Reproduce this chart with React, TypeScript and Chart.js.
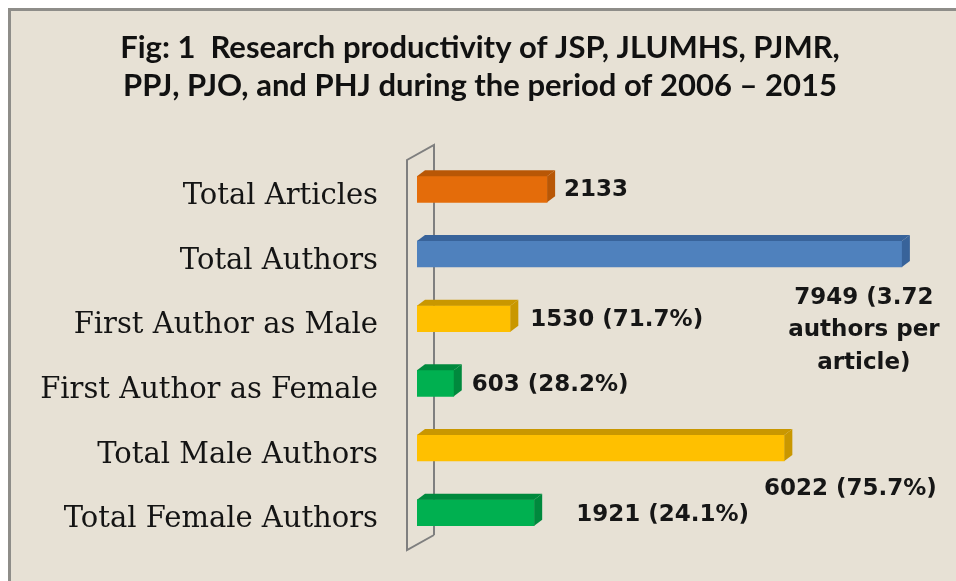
import React, { useEffect, useRef } from "react";
import { Chart, registerables } from "chart.js";

Chart.register(...registerables);

// ---- data ----
const categories = [
  "Total Articles",
  "Total Authors",
  "First Author as Male",
  "First Author as Female",
  "Total Male Authors",
  "Total Female Authors",
];
const values = [2133, 7949, 1530, 603, 6022, 1921];
const valueLabels: string[][] = [
  ["2133"],
  ["7949 (3.72", "authors per", "article)"],
  ["1530 (71.7%)"],
  ["603 (28.2%)"],
  ["6022 (75.7%)"],
  ["1921 (24.1%)"],
];
const titleLines = [
  "Fig: 1  Research productivity of JSP, JLUMHS, PJMR,",
  "PPJ, PJO, and PHJ during the period of 2006 – 2015",
];
const xMin = 0;
const xMax = 8000;

// ---- styles ----
const frontColors = ["#E46C0A", "#4F81BD", "#FFC000", "#00B050", "#FFC000", "#00B050"];
const shadeColors = ["#B85706", "#38639A", "#C99700", "#00893D", "#C99700", "#00893D"];
const labelPlacement: { dx: number; dy: number; align: CanvasTextAlign }[] = [
  { dx: 17, dy: 1, align: "left" },
  { dx: -38, dy: 44, align: "center" },
  { dx: 20, dy: 1, align: "left" },
  { dx: 18, dy: 1.5, align: "left" },
  { dx: 66, dy: 41, align: "center" },
  { dx: 42, dy: 2.5, align: "left" },
];
const DEPTH_X = 8;
const DEPTH_Y = 6;
const W = 956;
const H = 581;

const backgroundPlugin = {
  id: "paperBackground",
  beforeDraw(chart: any) {
    const ctx = chart.ctx;
    ctx.save();
    ctx.fillStyle = "#ffffff";
    ctx.fillRect(0, 0, W, H);
    ctx.fillStyle = "#E7E1D5";
    ctx.fillRect(8, 8, W - 8, H - 8);
    ctx.fillStyle = "#8E8D89";
    ctx.fillRect(8, 8, W - 8, 3);
    ctx.fillRect(8, 8, 3, H - 8);
    ctx.restore();
  },
};

const titlePlugin = {
  id: "figTitle",
  afterDraw(chart: any) {
    const ctx = chart.ctx;
    ctx.save();
    ctx.fillStyle = "#111111";
    ctx.font = "bold 31px Lato";
    ctx.textAlign = "center";
    ctx.textBaseline = "middle";
    titleLines.forEach((line, k) => {
      ctx.fillText(line, 480, 48 + k * 38);
    });
    ctx.restore();
  },
};

const wallPlugin = {
  id: "wall3d",
  beforeDatasetsDraw(chart: any) {
    const { ctx, chartArea } = chart;
    const l = chartArea.left;
    ctx.save();
    ctx.strokeStyle = "#7F7F7F";
    ctx.lineWidth = 2;
    ctx.beginPath();
    ctx.moveTo(l + 17, chartArea.bottom - 10);
    ctx.lineTo(l + 17, chartArea.top - 12);
    ctx.lineTo(l - 10, chartArea.top + 3);
    ctx.lineTo(l - 10, chartArea.bottom + 5);
    ctx.lineTo(l + 17, chartArea.bottom - 10);
    ctx.stroke();
    ctx.restore();
  },
};

const bar3dPlugin = {
  id: "bar3d",
  afterDatasetsDraw(chart: any) {
    const ctx = chart.ctx;
    const meta = chart.getDatasetMeta(0);
    ctx.save();
    meta.data.forEach((bar: any, i: number) => {
      const { x, y, base, height } = bar.getProps(["x", "y", "base", "height"], true);
      const top = y - height / 2;
      const bottom = y + height / 2;
      ctx.fillStyle = shadeColors[i];
      // top face
      ctx.beginPath();
      ctx.moveTo(base, top);
      ctx.lineTo(base + DEPTH_X, top - DEPTH_Y);
      ctx.lineTo(x + DEPTH_X, top - DEPTH_Y);
      ctx.lineTo(x, top);
      ctx.closePath();
      ctx.fill();
      // side face
      ctx.beginPath();
      ctx.moveTo(x, top);
      ctx.lineTo(x + DEPTH_X, top - DEPTH_Y);
      ctx.lineTo(x + DEPTH_X, bottom - DEPTH_Y);
      ctx.lineTo(x, bottom);
      ctx.closePath();
      ctx.fill();
    });
    // value labels
    ctx.fillStyle = "#161616";
    ctx.font = "bold 23px 'DejaVu Sans'";
    ctx.textBaseline = "middle";
    meta.data.forEach((bar: any, i: number) => {
      const { x, y } = bar.getProps(["x", "y"], true);
      const p = labelPlacement[i];
      ctx.textAlign = p.align;
      valueLabels[i].forEach((line, k) => {
        ctx.fillText(line, x + p.dx, y + p.dy + k * 32.5);
      });
    });
    ctx.restore();
  },
};

export default function App() {
  const ref = useRef<HTMLCanvasElement | null>(null);
  useEffect(() => {
    if (!ref.current) return;
    const chart = new Chart(ref.current, {
      type: "bar",
      data: {
        labels: categories,
        datasets: [
          {
            data: values,
            backgroundColor: frontColors,
            borderWidth: 0,
            barThickness: 26,
          },
        ],
      },
      options: {
        indexAxis: "y",
        animation: false,
        responsive: false,
        maintainAspectRatio: false,
        layout: { padding: { left: 0, right: 51, top: 157, bottom: 36 } },
        plugins: {
          legend: { display: false },
          tooltip: { enabled: false },
          title: { display: false },
        },
        scales: {
          x: { display: false, min: xMin, max: xMax },
          y: {
            grid: { display: false, drawTicks: false },
            border: { display: false },
            ticks: {
              color: "#141414",
              padding: 39,
              labelOffset: 7,
              font: { family: "'DejaVu Serif'", size: 29 },
            },
            afterFit(scale: any) {
              scale.width = 417;
              scale.paddingTop = 0;
              scale.paddingBottom = 0;
            },
          },
        },
      },
      plugins: [backgroundPlugin, wallPlugin, bar3dPlugin, titlePlugin],
    });
    return () => chart.destroy();
  }, []);
  return (
    <div style={{ position: "fixed", left: 0, top: 0, width: W, height: H }}>
      <canvas ref={ref} width={W} height={H} style={{ display: "block", width: W, height: H }} />
    </div>
  );
}
